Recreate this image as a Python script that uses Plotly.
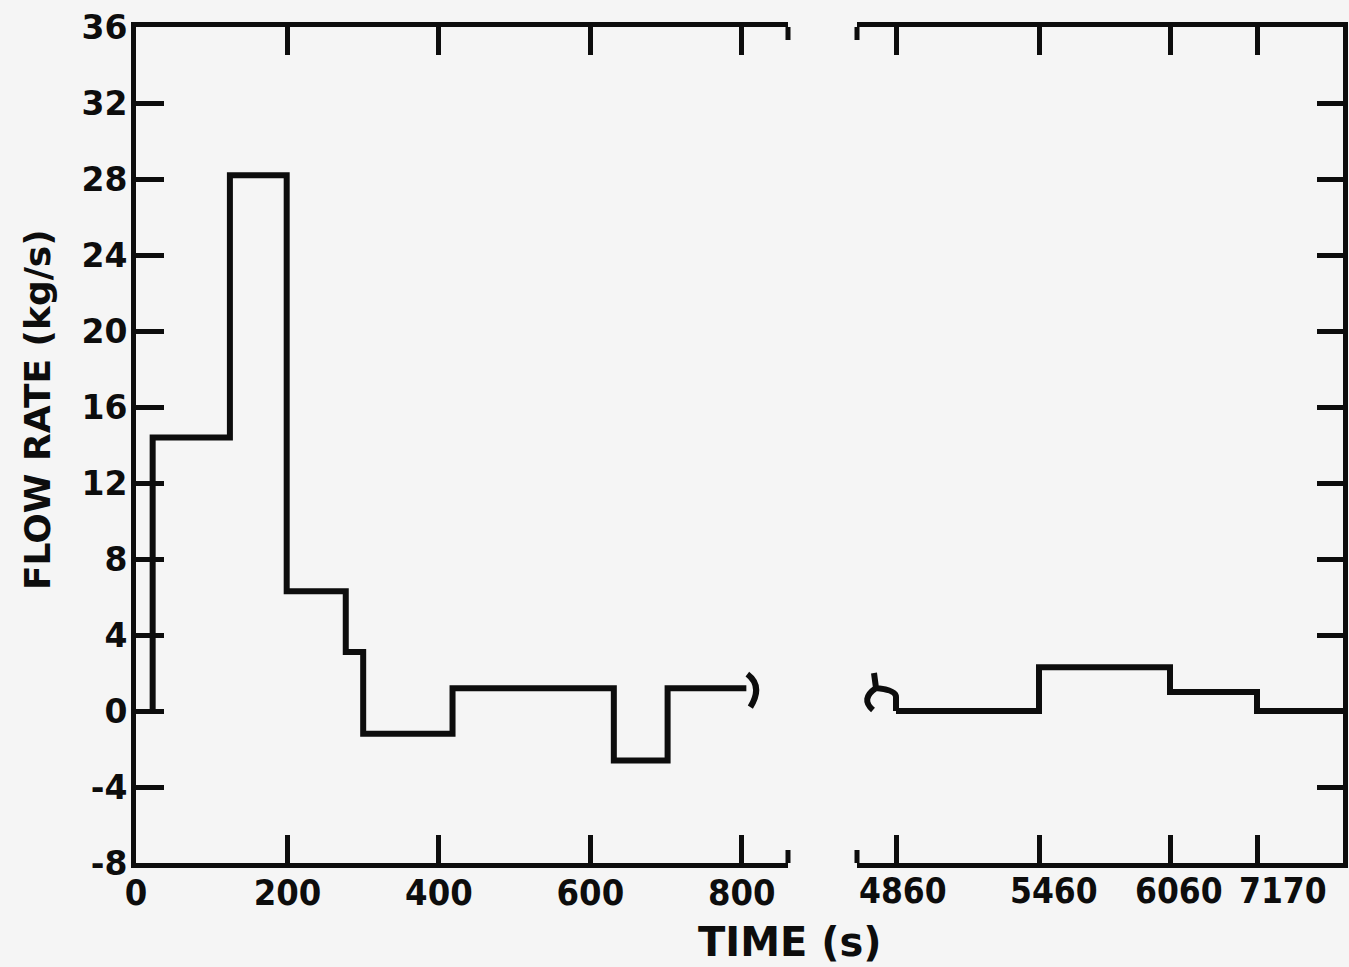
import numpy as np
import plotly.graph_objects as go

# ---------------- data ----------------
LEFT_TIMES = [22, 22, 124, 199, 277, 300, 418, 631, 702, 806]      # s
LEFT_FLOW = [0.0, 14.4, 28.2, 6.3, 3.1, -1.2, 1.2, -2.6, 1.2, 1.2]  # kg/s

RIGHT_TIMES = [4860, 5460, 6060, 7170]   # s
RIGHT_FLOW = [0.0, 2.3, 1.0, 0.0]        # kg/s

Y_TICKS = [-8, -4, 0, 4, 8, 12, 16, 20, 24, 28, 32, 36]
LEFT_X_TICKS = [0, 200, 400, 600, 800]
RIGHT_X_TICKS = [4860, 5460, 6060, 7170]
RIGHT_X_LABELS = ["4860", "5460", "6060", "7170"]

# ---------------- layout constants ----------------
W, H = 1349, 967
BG = "#f5f5f5"
INK = "#0d0d0d"

# broken right-hand time scale (non-uniform spacing of the original axis)
RIGHT_TICK_POS = [0, 143, 274, 361]
RIGHT_LABEL_SHIFT = [7, 15, 9, 26]   # px offsets of the hand-lettered labels
X2_RANGE = [-39, 447]
X1_RANGE = [0, 861]
Y_RANGE = [-8, 36]


def right_scale(t):
    return np.interp(np.asarray(t, dtype=float), RIGHT_X_TICKS, RIGHT_TICK_POS)


def px_x(p):
    return p / W


def px_y(p):
    return 1 - p / H


x1_dom = [px_x(136), px_x(788)]
x2_dom = [px_x(857), px_x(1343)]
y_dom = [px_y(863), px_y(27)]

fig = go.Figure()

fig.add_trace(go.Scatter(
    x=LEFT_TIMES, y=LEFT_FLOW, mode="lines", line_shape="hv",
    line=dict(color=INK, width=6), xaxis="x", yaxis="y", showlegend=False,
    hoverinfo="skip",
))

rx = list(right_scale(RIGHT_TIMES)) + [X2_RANGE[1]]
ry = RIGHT_FLOW + [RIGHT_FLOW[-1]]
fig.add_trace(go.Scatter(
    x=rx, y=ry, mode="lines", line_shape="hv",
    line=dict(color=INK, width=6), xaxis="x2", yaxis="y2", showlegend=False,
    hoverinfo="skip",
))

tick_font_y = dict(family="DejaVu Sans", size=33, color=INK, weight="bold")
tick_font_x = dict(family="DejaVu Sans Condensed, DejaVu Sans", size=36, color=INK, weight="bold")
tick_font_x2 = dict(family="DejaVu Sans Condensed, DejaVu Sans", size=35, color=INK, weight="bold")

common_x = dict(showline=True, linecolor=INK, linewidth=5, mirror="allticks",
                ticks="inside", ticklen=28, tickwidth=5, tickcolor=INK,
                showgrid=False, zeroline=False,
                ticklabelstandoff=-6, tickangle=0, automargin=False)

fig.update_layout(
    width=W, height=H,
    margin=dict(l=0, r=0, t=0, b=0),
    paper_bgcolor=BG, plot_bgcolor=BG,
    xaxis=dict(domain=x1_dom, range=X1_RANGE, anchor="y",
               tickmode="array", tickvals=LEFT_X_TICKS,
               ticktext=[str(v) for v in LEFT_X_TICKS], tickfont=tick_font_x, **common_x),
    xaxis2=dict(domain=x2_dom, range=X2_RANGE, anchor="y2",
                tickmode="array", tickvals=list(right_scale(RIGHT_X_TICKS)),
                showticklabels=False, **common_x),
    yaxis=dict(domain=y_dom, range=Y_RANGE, anchor="x", side="left",
               tickmode="array", tickvals=Y_TICKS, ticktext=[str(v) for v in Y_TICKS],
               showline=True, linecolor=INK, linewidth=5, mirror=False,
               ticks="inside", ticklen=28, tickwidth=5, tickcolor=INK,
               showgrid=False, zeroline=False, tickfont=tick_font_y,
               ticklabelstandoff=-3, automargin=False),
    yaxis2=dict(domain=y_dom, range=Y_RANGE, anchor="x2", side="right",
                tickmode="array", tickvals=Y_TICKS, showticklabels=False,
                showline=True, linecolor=INK, linewidth=5,
                ticks="inside", ticklen=26, tickwidth=5, tickcolor=INK,
                showgrid=False, zeroline=False, automargin=False),
)

# right-hand (broken) axis labels, lettered slightly right of their ticks
for pos, lab, sh in zip(right_scale(RIGHT_X_TICKS), RIGHT_X_LABELS, RIGHT_LABEL_SHIFT):
    fig.add_annotation(text=lab, xref="x2", yref="paper", x=float(pos), y=px_y(891),
                       xanchor="center", yanchor="middle", xshift=sh, showarrow=False,
                       font=tick_font_x2)

shapes = []
# break caps on the broken time axis (top & bottom)
for xr, xv, yr in (("x domain", 1, "y"), ("x2 domain", 0, "y2")):
    for yanchor in Y_RANGE:
        shapes.append(dict(type="line", xref=xr, x0=xv, x1=xv,
                           yref=yr, ysizemode="pixel", yanchor=yanchor,
                           y0=-13, y1=13, line=dict(color=INK, width=5)))

# break squiggles at the ends of the curve
shapes.append(dict(type="path", xref="x", yref="y", xsizemode="pixel", ysizemode="pixel",
                   xanchor=LEFT_TIMES[-1], yanchor=LEFT_FLOW[-1],
                   path="M 1,14 Q 17,2 4,-19", line=dict(color=INK, width=6)))
shapes.append(dict(type="path", xref="x2", yref="y2", xsizemode="pixel", ysizemode="pixel",
                   xanchor=float(right_scale(RIGHT_TIMES[0])), yanchor=RIGHT_FLOW[0],
                   path="M 0,0 L 0,14 Q 0,21 -20,23 L -22,38 M -20,23 Q -36,12 -23,1",
                   line=dict(color=INK, width=6)))
fig.update_layout(shapes=shapes)

fig.add_annotation(text="FLOW RATE (kg/s)", xref="paper", yref="paper",
                   x=px_x(37), y=px_y(410), xanchor="center", yanchor="middle",
                   textangle=-90, showarrow=False,
                   font=dict(family="DejaVu Sans", size=36, color=INK, weight="bold"))
fig.add_annotation(text="TIME (s)", xref="paper", yref="paper",
                   x=px_x(790), y=px_y(942), xanchor="center", yanchor="middle",
                   showarrow=False,
                   font=dict(family="DejaVu Sans", size=40, color=INK, weight="bold"))

fig.write_html(
    "out.html",
    config={"displayModeBar": False, "staticPlot": True},
    post_script="document.body.style.margin='0';document.body.style.overflow='hidden';",
)
